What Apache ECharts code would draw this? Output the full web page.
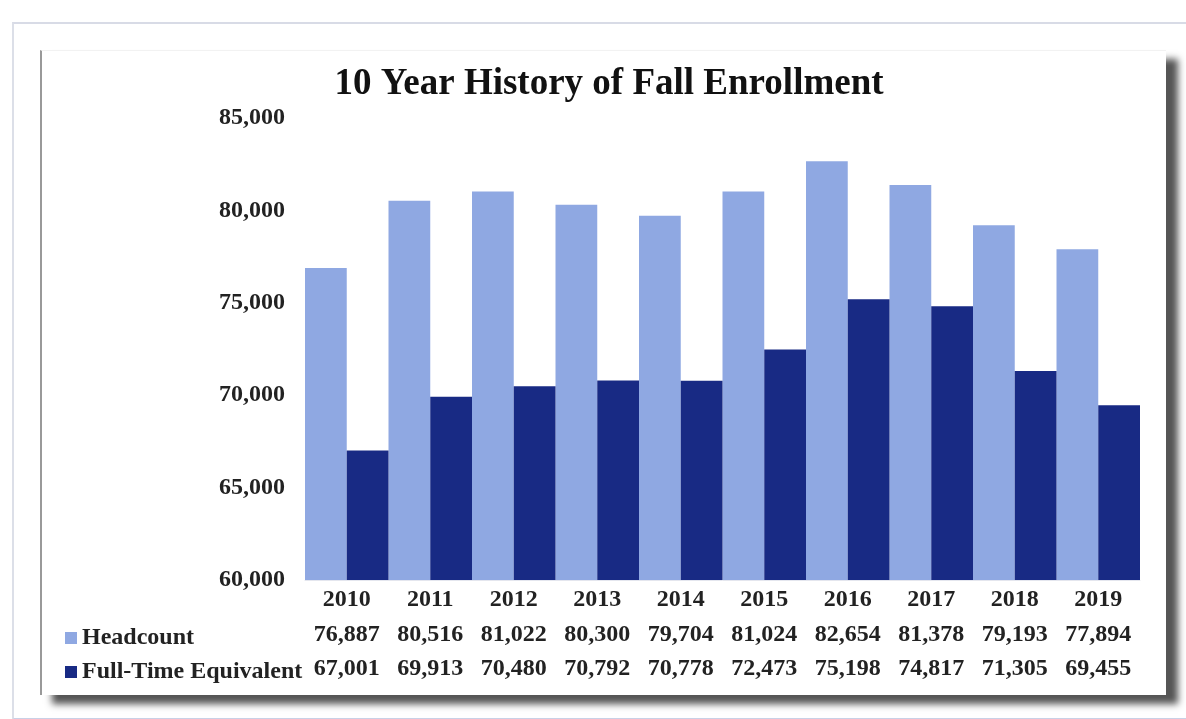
<!DOCTYPE html>
<html><head><meta charset="utf-8">
<script src="https://cdn.jsdelivr.net/npm/echarts@6/dist/echarts.min.js"></script>
<style>
html,body{margin:0;padding:0;background:#fff;}
#outer{position:absolute;left:12px;top:22px;width:1180px;height:694px;border-top:2px solid #d8dbe6;border-left:2px solid #dcdfe8;border-bottom:2px solid #c9d0e6;}
#panel{position:absolute;left:40px;top:50px;width:1124px;height:644px;background:#fff;border-left:2px solid #999;border-top:1px solid #f2f2f2;box-shadow:12px 9px 7px #555;}
#c{position:absolute;left:0;top:0;width:1186px;height:719px;}
</style></head>
<body>
<div id="outer"></div><div id="panel"></div>
<div id="c"></div>
<script>
const categories = ['2010','2011','2012','2013','2014','2015','2016','2017','2018','2019'];
const headcount = [76887,80516,81022,80300,79704,81024,82654,81378,79193,77894];
const fte = [67001,69913,70480,70792,70778,72473,75198,74817,71305,69455];
const yTicks = {min:60000, max:85000, interval:5000};

const fmt = v => v.toLocaleString('en-US');
const font = 'Liberation Serif';
const chart = echarts.init(document.getElementById('c'), null, {renderer:'canvas'});
chart.setOption({
  backgroundColor:'transparent',
  title:{text:'10 Year History of Fall Enrollment', left:604, textAlign:'center', top:61,
    textStyle:{fontFamily:font, fontWeight:'bold', fontSize:37, color:'#111'}},
  legend:{orient:'vertical', left:60, top:621, itemWidth:12, itemHeight:12, itemGap:10,
    icon:'rect', textStyle:{fontFamily:font, fontWeight:'bold', fontSize:24, color:'#222'},
    data:['Headcount','Full-Time Equivalent']},
  grid:{left:305, right:46, top:118, bottom:139},
  xAxis:{type:'category', data:categories,
    axisLine:{show:true, lineStyle:{color:'#e4e6ee'}}, axisTick:{show:false},
    axisLabel:{margin:2, interval:0,
      formatter:(v,i)=> '{y|'+v+'}\n{n|'+fmt(headcount[i])+'}\n{n|'+fmt(fte[i])+'}',
      rich:{
        y:{fontFamily:font, fontWeight:'bold', fontSize:24, color:'#222', lineHeight:36},
        n:{fontFamily:font, fontWeight:'bold', fontSize:24, color:'#222', lineHeight:34}
      }}},
  yAxis:{type:'value', min:yTicks.min, max:yTicks.max, interval:yTicks.interval,
    splitLine:{show:false}, axisLine:{show:false}, axisTick:{show:false},
    axisLabel:{margin:20, formatter:v=>fmt(v), fontFamily:font, fontWeight:'bold', fontSize:24, color:'#222'}},
  series:[
    {name:'Headcount', type:'bar', data:headcount, barGap:'0%', barCategoryGap:'0%',
      itemStyle:{color:'#8fa8e2'}},
    {name:'Full-Time Equivalent', type:'bar', data:fte, barGap:'0%', barCategoryGap:'0%',
      itemStyle:{color:'#182a84'}}
  ]
});
</script>
</body></html>
